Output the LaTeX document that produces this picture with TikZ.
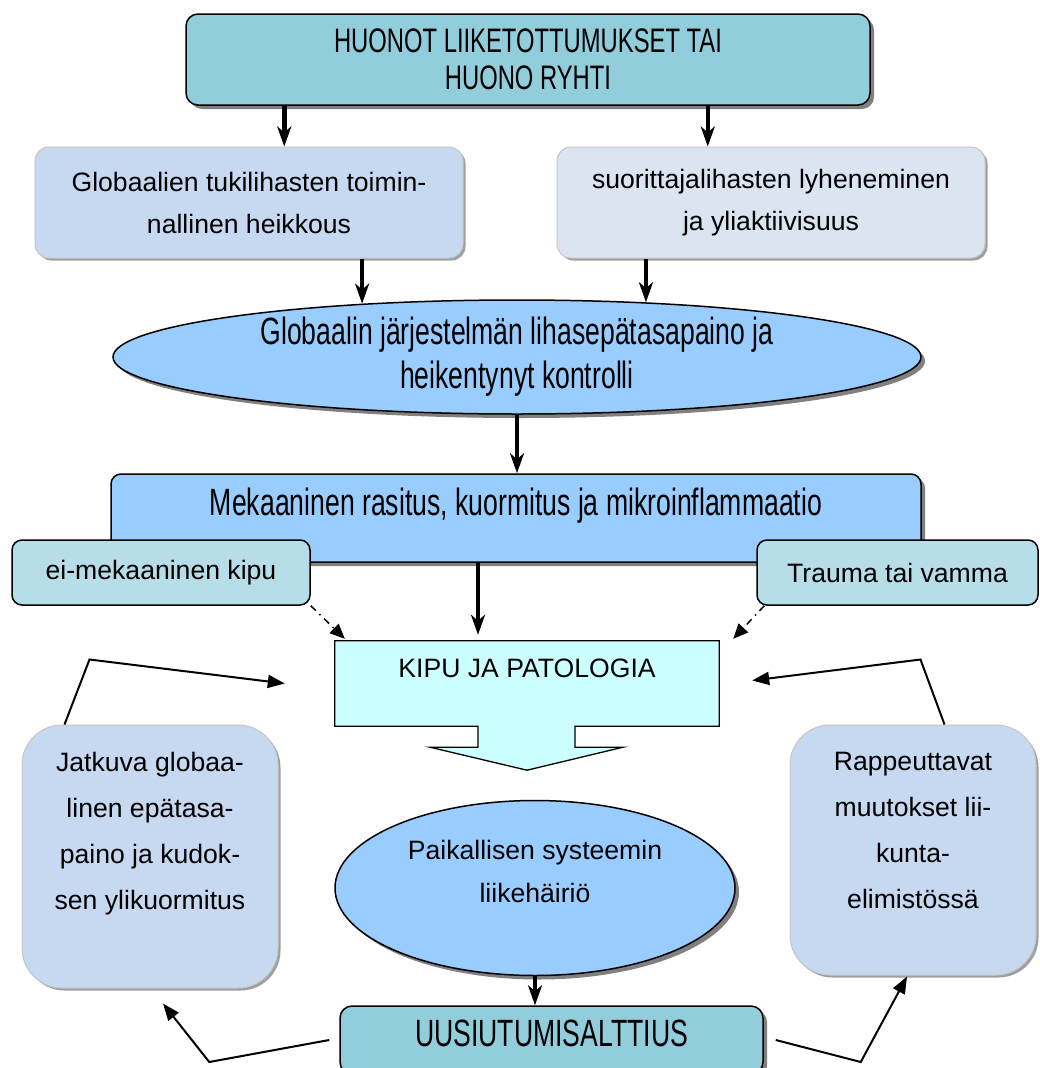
\documentclass[tikz,border=0pt]{standalone}
\usepackage{fontspec}
\setmainfont{Liberation Sans}
\newfontfamily\narrowfont[FakeStretch=0.7]{Liberation Sans}
\usetikzlibrary{calc,arrows.meta,shapes.geometric,shadows,backgrounds}
\definecolor{headteal}{RGB}{146,205,220}
\definecolor{paleblue}{RGB}{198,217,241}
\definecolor{paleblueb}{RGB}{219,229,241}
\definecolor{skyblue}{RGB}{153,204,255}
\definecolor{sideteal}{RGB}{183,221,232}
\definecolor{palecyan}{RGB}{204,255,255}
\tikzset{
  headbox/.style={
      draw,
      line width=1.5pt,
      rounded corners=12pt,
      fill=headteal,
      align=center,
      inner sep=2pt,
      drop shadow={shadow xshift=4pt,shadow yshift=-4pt,fill=black!50,opacity=1},
  },
  softbox/.style={
      draw=gray!45,
      line width=1pt,
      rounded corners=#1,
      align=center,
      inner sep=2pt,
      drop shadow={shadow xshift=2.5pt,shadow yshift=-2.5pt,fill=gray!75,opacity=1},
  },
  softbox/.default=14pt,
  ovalbox/.style={
      ellipse,
      draw,
      line width=1.5pt,
      fill=skyblue,
      align=center,
      inner sep=0pt,
      drop shadow={shadow xshift=4pt,shadow yshift=-4pt,fill=black!50,opacity=1},
  },
  sidebox/.style={
      draw,
      line width=1.5pt,
      rounded corners=10pt,
      fill=sideteal,
      inner sep=2pt,
  },
  heavy/.style={
    line width=4.5pt,
    -{Stealth[length=20pt,width=14pt,inset=6pt]}
  },
  loopline/.style={
    line width=2pt,
    -{Triangle[length=17pt,width=13pt]}
  },
  hint/.style={
    line width=1.5pt,
    dash pattern=on 7pt off 5pt on 1.5pt off 5pt,
    -{Triangle[length=15pt,width=13pt]}
  },
  narrowtext/.style={font=\narrowfont\fontsize{#1}{44}\selectfont},
  narrowtext/.default=38
}

\begin{document}
\begin{tikzpicture}[x=1pt,y=-1pt,font=\fontsize{26.6}{42}\selectfont]
  \useasboundingbox (0,0) rectangle (1039,1068);
  \node[headbox,minimum width=684pt,minimum height=91pt,
  font=\narrowfont\fontsize{34}{37}\selectfont](habits) at (528,59.5)
  {HUONOT LIIKETOTTUMUKSET TAI\\HUONO RYHTI};
  \node[softbox,fill=paleblue,minimum width=428pt,minimum height=111pt](weakness) at (249,202.5)
  {Globaalien tukilihasten toimin-\\nallinen heikkous};
  \node[softbox,fill=paleblueb,minimum width=428pt,minimum height=111pt](shortening) at (771,202.5)
  {suorittajalihasten lyheneminen\\ja yliaktiivisuus};
  \node[ovalbox,narrowtext,minimum width=808pt,minimum height=114pt](imbalance) at (517,357)
  {Globaalin järjestelmän lihasepätasapaino ja\\heikentynyt kontrolli};
  \node[headbox,narrowtext,fill=skyblue,rounded corners=10pt,
  minimum width=810pt,minimum height=88pt,text depth=32pt](strain) at (516,518)
  {Mekaaninen rasitus, kuormitus ja mikroinflammaatio};
  \node[sidebox,minimum width=298pt,minimum height=65pt](nonmech) at (161,572.5) {ei-mekaaninen kipu};
  \node[sidebox,minimum width=281pt,minimum height=65pt](trauma) at (897.5,572.5) {Trauma tai vamma};
  \node[minimum width=384pt,minimum height=85pt,inner sep=2pt,text depth=31pt](pain) at (527,683.5)
  {KIPU JA PATOLOGIA};
  \begin{scope}[on background layer]
    \draw[fill=palecyan,line width=1.3pt] (pain.north west) -- (pain.north east) -- (pain.south east)
    -- ($(pain.south)+(48,0)$) -- ($(pain.south)+(48,21)$) -- ($(pain.south)+(96,21)$)
    -- ($(pain.south)+(0,44)$) -- ($(pain.south)+(-97,21)$) -- ($(pain.south)+(-49,21)$)
    -- ($(pain.south)+(-49,0)$) -- (pain.south west) -- cycle;
  \end{scope}
  \node[softbox=40pt,fill=paleblue,minimum width=256pt,minimum height=263pt,text depth=52pt,
  font=\fontsize{26.6}{46}\selectfont](ongoing) at (150,856.5)
  {Jatkuva globaa-\\linen epätasa-\\paino ja kudok-\\sen ylikuormitus};
  \node[softbox=40pt,fill=paleblue,minimum width=246pt,minimum height=250pt,text depth=39.5pt,
  font=\fontsize{26.6}{46}\selectfont](degen) at (913,850)
  {Rappeuttavat\\muutokset lii-\\kunta-\\elimistössä};
  \node[ovalbox,minimum width=400pt,minimum height=175pt,text depth=34pt,
  font=\fontsize{26.6}{43}\selectfont](local) at (535,888)
  {Paikallisen systeemin\\liikehäiriö};
  \node[headbox,narrowtext,minimum width=423pt,minimum height=68pt,text depth=14pt](relapse) at (551.5,1040)
  {UUSIUTUMISALTTIUS};
  % main chain
  \coordinate (h1) at ([xshift=99pt]habits.south west);
  \coordinate (h2) at ([xshift=-163pt]habits.south east);
  \coordinate (s1) at ([xshift=-38pt]strain.south);
  \draw[heavy] (h1) -- (h1 |- weakness.north);
  \draw[heavy] (h2) -- (h2 |- shortening.north);
  \draw[heavy] (weakness.south -| imbalance.161) -- (imbalance.161);
  \draw[heavy] (shortening.south -| imbalance.23) -- (imbalance.23);
  \draw[heavy] (imbalance.south) -- (imbalance.south |- strain.north);
  \draw[heavy,shorten >=6pt] (s1) -- (s1 |- pain.north);
  \draw[heavy] (local.south) -- (local.south |- relapse.north);
  % side causes
  \draw[hint] (nonmech.south east) -- ([xshift=10pt,yshift=2pt]pain.north west);
  \draw[hint] ([xshift=8pt]trauma.south west) -- ([xshift=14pt,yshift=2pt]pain.north east);
  % feedback loops
  \coordinate (bendl) at ([xshift=68pt,yshift=65pt]ongoing.north west);
  \coordinate (bendr) at ([xshift=-116pt,yshift=65pt]degen.north east);
  \coordinate (bendbl) at ([xshift=-130pt,yshift=-22pt]relapse.west);
  \coordinate (bendbr) at ([xshift=97pt,yshift=-22pt]relapse.east);
  \draw[loopline] ([xshift=43pt]ongoing.north west) -- (bendl) -- ([xshift=-50pt]pain.west);
  \draw[loopline] ([xshift=-92pt]degen.north east) -- (bendr) -- ([xshift=33pt,yshift=3pt]pain.east);
  \draw[loopline] ([xshift=-10pt]relapse.west) -- (bendbl) -- ([xshift=13pt,yshift=-15pt]ongoing.south);
  \draw[loopline] ([xshift=12pt]relapse.east) -- (bendbr) -- ([xshift=-6pt,yshift=-1pt]degen.south);
\end{tikzpicture}
\end{document}
